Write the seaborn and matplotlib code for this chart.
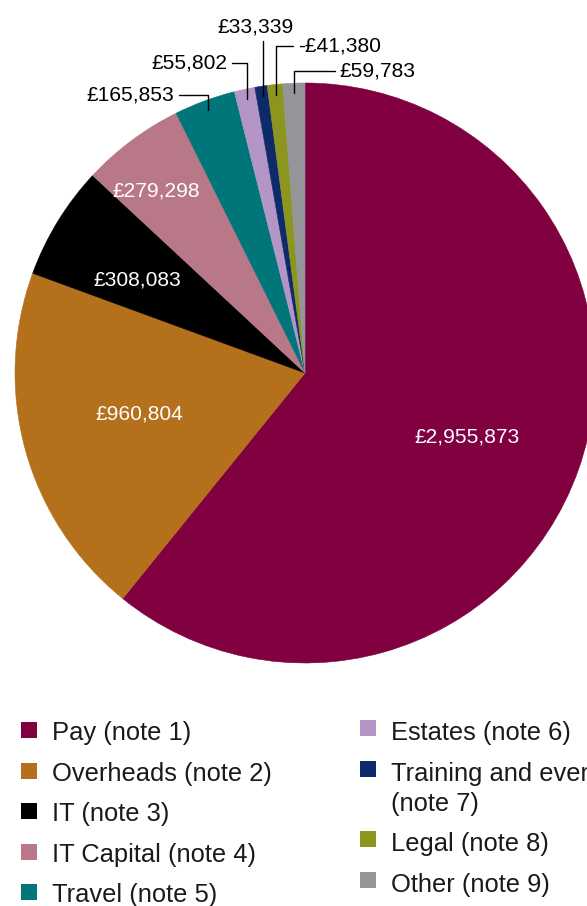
import numpy as np
import matplotlib
matplotlib.use("Agg")
import matplotlib.pyplot as plt
from matplotlib.patches import Rectangle
import seaborn as sns

# Expenditure breakdown
categories = [
    "Pay (note 1)",
    "Overheads (note 2)",
    "IT (note 3)",
    "IT Capital (note 4)",
    "Travel (note 5)",
    "Estates (note 6)",
    "Training and events\n(note 7)",
    "Legal (note 8)",
    "Other (note 9)",
]
values = [2955873, 960804, 308083, 279298, 165853, 55802, 33339, -41380, 59783]
colors = ["#800040", "#B5701C", "#000000", "#B87888", "#00757A",
          "#B496C6", "#0E2A6B", "#8C961E", "#939598"]


def money(v):
    return ("-£" if v < 0 else "£") + f"{abs(v):,}"


sns.set_theme(style="white")
plt.rcParams["font.family"] = ["Liberation Sans", "DejaVu Sans"]

W, H = 587, 906
fig = plt.figure(figsize=(W / 100, H / 100), dpi=100)
fig.patch.set_facecolor("white")


def fx(px):
    return px / W


def fy(py):
    return 1 - py / H


# pie occupies a 580 px square centred at (305, 373)
R_PX = 290
ax = fig.add_axes([fx(305 - R_PX), fy(373 + R_PX), 2 * R_PX / W, 2 * R_PX / H])
palette = sns.color_palette(colors)
wedges, _ = ax.pie(
    np.abs(values), colors=palette, startangle=90, counterclock=False,
    radius=1, wedgeprops=dict(linewidth=0.4),
)
for w in wedges:
    w.set_edgecolor(w.get_facecolor())
ax.set_xlim(-1, 1)
ax.set_ylim(-1, 1)
ax.set_aspect("equal")
ax.axis("off")

LABEL_FS = 15.1

# labels inside the large slices (baseline anchor, pie units)
inside = {0: (0.558, -0.238), 1: (-0.573, -0.160),
          2: (-0.578, 0.303), 3: (-0.514, 0.608)}
for i, (tx, ty) in inside.items():
    ax.text(tx, ty, money(values[i]), color="white",
            fontsize=LABEL_FS, ha="center", va="baseline")

# leader-line labels for the thin slices: (text x, text y, alignment)
outside = {
    4: (-0.452, 0.958, "right"),
    5: (-0.268, 1.068, "right"),
    6: (-0.172, 1.194, "center"),
    7: (-0.024, 1.128, "left"),
    8: (0.120, 1.041, "left"),
}
for i, (tx, ty, ha) in outside.items():
    w = wedges[i]
    a = np.deg2rad((w.theta1 + w.theta2) / 2)
    px, py = 0.965 * np.cos(a), 0.965 * np.sin(a)
    ax.annotate(
        money(values[i]), xy=(px, py), xytext=(tx, ty), ha=ha, va="center",
        fontsize=LABEL_FS, color="black", annotation_clip=False,
        arrowprops=dict(arrowstyle="-", color="black", lw=1.0,
                        shrinkA=1, shrinkB=0,
                        connectionstyle="angle,angleA=0,angleB=90,rad=0"),
    )

# legend in two columns: (square x, text x, square offset above baseline, entries)
LEG_FS = 18.35
columns = [(21, 51.5, 10, range(0, 5)), (360, 391, 12, range(5, 9))]
row_step, line_step, sq = 40.6, 30, 16
for hx, tx, sq_off, idx in columns:
    base = 740
    for i in idx:
        yc = base - sq_off
        fig.add_artist(Rectangle((fx(hx), fy(yc + sq / 2)), sq / W, sq / H,
                                 transform=fig.transFigure,
                                 facecolor=palette[i], edgecolor="none"))
        lines = categories[i].split("\n")
        for k, line in enumerate(lines):
            fig.text(fx(tx), fy(base + k * line_step), line, fontsize=LEG_FS,
                     ha="left", va="baseline", color="#1a1a1a")
        base += row_step + line_step * (len(lines) - 1)

fig.savefig("out.png", dpi=100)
